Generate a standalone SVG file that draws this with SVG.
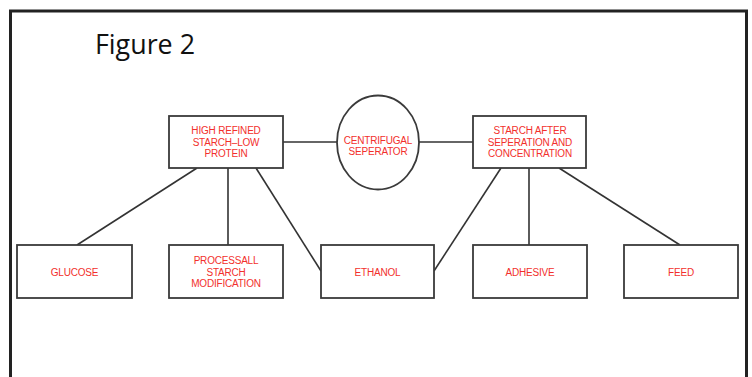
<svg xmlns="http://www.w3.org/2000/svg" width="752" height="377" viewBox="0 0 752 377">
<style>
.box{fill:#fff;stroke:#3a3a3a;stroke-width:1.8}
.lbl{font-family:"Liberation Sans",Arial,sans-serif;font-size:10px;fill:#f2302c;text-anchor:middle;letter-spacing:-0.2px}
.con{stroke:#333;stroke-width:1.6;fill:none}
</style>
<rect x="0" y="0" width="752" height="377" fill="#fff"/>
<path d="M10.5,377 V11 H746.5 V377" fill="none" stroke="#222" stroke-width="3"/>
<text x="95" y="54" font-family="'Open Sans','Noto Sans',sans-serif" font-size="27" fill="#111" textLength="100" lengthAdjust="spacingAndGlyphs">Figure 2</text>
<g id="connectors">
<line class="con" x1="197" y1="168" x2="77" y2="245"/>
<line class="con" x1="228" y1="168" x2="228" y2="245"/>
<line class="con" x1="256" y1="168" x2="321" y2="271"/>
<line class="con" x1="501" y1="168" x2="434" y2="271"/>
<line class="con" x1="529" y1="168" x2="529" y2="245"/>
<line class="con" x1="559" y1="168" x2="680" y2="245"/>
<line class="con" x1="283" y1="142" x2="337" y2="142"/>
<line class="con" x1="419" y1="142" x2="473" y2="142"/>
</g>
<g id="high-refined">
<rect class="box" x="169" y="116" width="114" height="52"/>
<text class="lbl" x="226" y="134">HIGH REFINED</text>
<text class="lbl" x="226" y="146">STARCH–LOW</text>
<text class="lbl" x="226" y="157">PROTEIN</text>
</g>
<g id="centrifugal">
<ellipse class="box" cx="378" cy="142.5" rx="41" ry="47"/>
<text class="lbl" x="378" y="144">CENTRIFUGAL</text>
<text class="lbl" x="378" y="155">SEPERATOR</text>
</g>
<g id="starch-after">
<rect class="box" x="473" y="116" width="113" height="52"/>
<text class="lbl" x="530" y="134">STARCH AFTER</text>
<text class="lbl" x="530" y="146">SEPERATION AND</text>
<text class="lbl" x="530" y="157">CONCENTRATION</text>
</g>
<g id="glucose">
<rect class="box" x="17" y="245" width="115" height="53"/>
<text class="lbl" x="74.5" y="276">GLUCOSE</text>
</g>
<g id="processall">
<rect class="box" x="169" y="245" width="114" height="53"/>
<text class="lbl" x="226" y="264">PROCESSALL</text>
<text class="lbl" x="226" y="276">STARCH</text>
<text class="lbl" x="226" y="287">MODIFICATION</text>
</g>
<g id="ethanol">
<rect class="box" x="321" y="245" width="113" height="53"/>
<text class="lbl" x="377.5" y="276">ETHANOL</text>
</g>
<g id="adhesive">
<rect class="box" x="473" y="245" width="114" height="53"/>
<text class="lbl" x="530" y="276">ADHESIVE</text>
</g>
<g id="feed">
<rect class="box" x="624" y="245" width="114" height="53"/>
<text class="lbl" x="681" y="276">FEED</text>
</g>
</svg>
